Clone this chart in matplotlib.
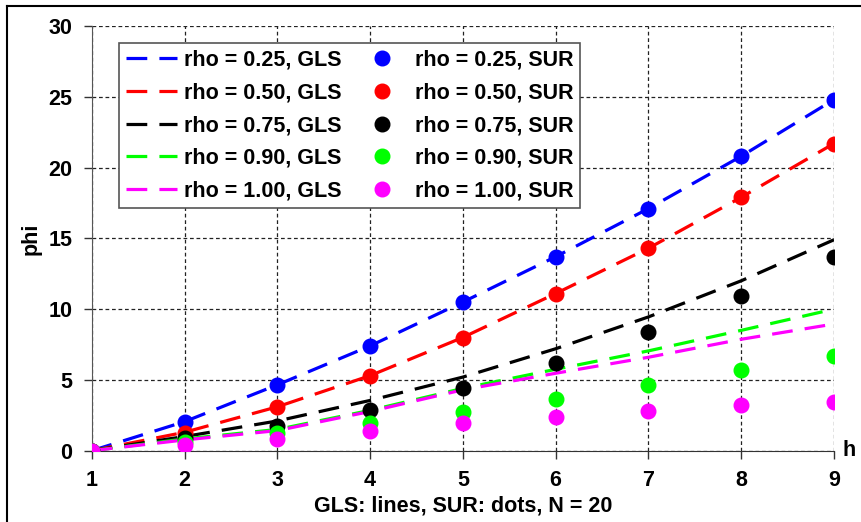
import matplotlib
matplotlib.use("Agg")
import matplotlib.pyplot as plt
from matplotlib.lines import Line2D

plt.rcParams['font.family'] = ['Liberation Sans', 'DejaVu Sans']
plt.rcParams['font.weight'] = 'bold'

h = [1, 2, 3, 4, 5, 6, 7, 8, 9]
rhos = ["0.25", "0.50", "0.75", "0.90", "1.00"]
colores = ["#0000ff", "#ff0000", "#000000", "#00ff00", "#ff00ff"]

# GLS (lineas)
gls = [
    [0, 2.05, 4.65, 7.4, 10.5, 13.7, 17.1, 20.8, 24.8],
    [0, 1.3, 3.1, 5.3, 8.0, 11.1, 14.3, 17.9, 21.7],
    [0, 1.0, 2.1, 3.55, 5.2, 7.2, 9.45, 12.0, 14.9],
    [0, 0.83, 1.5, 2.85, 4.4, 5.75, 7.05, 8.5, 10.0],
    [0, 0.76, 1.42, 2.77, 4.3, 5.47, 6.6, 7.87, 8.95],
]
# SUR (puntos)
sur = [
    [0, 2.05, 4.64, 7.39, 10.5, 13.7, 17.1, 20.8, 24.77],
    [0, 1.27, 3.06, 5.27, 7.98, 11.1, 14.3, 17.94, 21.66],
    [0, 0.87, 1.74, 2.9, 4.45, 6.2, 8.4, 10.9, 13.7],
    [0, 0.64, 1.27, 1.93, 2.71, 3.63, 4.64, 5.7, 6.69],
    [0, 0.4, 0.83, 1.39, 1.93, 2.4, 2.83, 3.23, 3.42],
]

fs = 15.5

fig = plt.figure(figsize=(8.62, 5.22), dpi=100)
ax = fig.add_axes([0.1064, 0.1366, 0.8611, 0.8136])

lineas = []
for r, c, y in zip(rhos, colores, gls):
    ln, = ax.plot(h, y, color=c, lw=2.3, dashes=(6.5, 3.8),
                  label=f"rho = {r}, GLS", zorder=3)
    lineas.append(ln)
puntos = []
for r, c, y in zip(rhos, colores, sur):
    pt, = ax.plot(h, y, 'o', color=c, ms=10.5, label=f"rho = {r}, SUR",
                  zorder=4)
    puntos.append(pt)

ax.set_xlim(1, 9)
ax.set_ylim(0, 30)
ax.set_xticks(h)
ax.set_yticks([0, 5, 10, 15, 20, 25, 30])
ax.grid(True, color='#222222', ls=(0, (3, 2.2)), lw=0.9)
for s in ['top', 'right']:
    ax.spines[s].set_visible(False)
ax.spines['left'].set_color('#555555')
ax.spines['bottom'].set_color('#333333')
ax.tick_params(axis='both', labelsize=fs, length=6, width=1, colors='#333333',
               labelcolor='black', pad=8)
for t in ax.get_xticklabels() + ax.get_yticklabels():
    t.set_fontweight('bold')

ax.set_ylabel("phi", fontsize=fs, fontweight='bold', labelpad=5)
ax.set_xlabel("GLS: lines, SUR: dots, N = 20", fontsize=fs, fontweight='bold',
              labelpad=3)
ax.text(1.012, 0.0, "h", transform=ax.transAxes, fontsize=fs,
        fontweight='bold', ha='left', va='center')

leg = ax.legend(handles=lineas + puntos, ncol=2, loc='upper left',
                bbox_to_anchor=(0.037, 0.96), borderaxespad=0,
                fontsize=fs, frameon=True, fancybox=False, framealpha=1,
                edgecolor='#555555', handlelength=2.4, handletextpad=0.33,
                columnspacing=0.65, labelspacing=0.55, borderpad=0.3)
leg.get_frame().set_linewidth(1.2)
for t in leg.get_texts():
    t.set_fontweight('bold')

# marco de la figura
fig.add_artist(Line2D([7 / 862, 7 / 862], [0, 1 - 6 / 522], color='black',
                      lw=1.5, transform=fig.transFigure))
fig.add_artist(Line2D([7 / 862, 1], [1 - 6 / 522, 1 - 6 / 522], color='black',
                      lw=1.5, transform=fig.transFigure))

fig.savefig("out.png", dpi=100)
